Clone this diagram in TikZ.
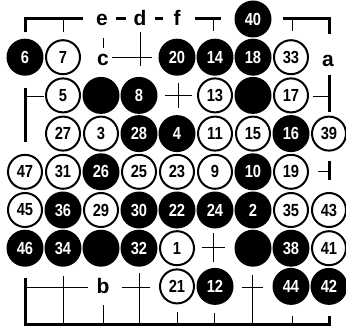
\documentclass[tikz,border=0pt]{standalone}
\usepackage{fontspec}
\setmainfont{Liberation Sans}
\newcommand\numfont{\fontsize{17.5}{17.5}\selectfont\bfseries}
\newcommand\stn[1]{\scalebox{0.84}[1]{#1}}
\begin{document}
\begin{tikzpicture}[x=1pt,y=-1pt,
  blk/.style={circle,fill=black,minimum size=37pt,inner sep=0pt,text=white,font=\numfont},
  wht/.style={circle,draw=black,line width=2pt,fill=white,minimum size=34pt,inner sep=0pt,text=black,font=\numfont},
  edgeline/.style={line width=3pt,line cap=butt},
  gridline/.style={line width=1pt},
  lbl/.style={font=\fontsize{21}{21}\selectfont\bfseries,inner sep=0pt}]
\useasboundingbox (0,0) rectangle (346,329);
% intersections
\foreach \i in {0,...,8}{\foreach \j in {0,...,8}{\coordinate (p\i\j) at (25+38*\i,19+38.2*\j);}}
% ---- top edge
\draw[edgeline] (25,32) -- (25,19) -- (83,19);
\draw[gridline] (63,19) -- (63,32);
\draw[edgeline] (116,19) -- (126,19);
\draw[edgeline] (155,19) -- (163,19);
\draw[edgeline] (195,19) -- (221,19);
\draw[gridline] (213,19) -- (213,31);
\draw[edgeline] (283,19) -- (329,19) -- (329,34);
\draw[gridline] (292,19) -- (292,31);
% ---- row 1
\draw[gridline] (103,38) -- (103,48);
\draw[gridline] (112,58) -- (152,58);
\draw[gridline] (140,32) -- (140,66);
% ---- row 2
\draw[edgeline] (25,88) -- (25,142);
\draw[gridline] (25,97) -- (44,97);
\draw[gridline] (165,96) -- (192,96);
\draw[gridline] (178,83) -- (178,108);
\draw[edgeline] (329,75) -- (329,112);
\draw[gridline] (313,97) -- (329,97);
% ---- row 4
\draw[edgeline] (329,161) -- (329,180);
\draw[gridline] (318,172) -- (329,172);
% ---- row 6
\draw[gridline] (202,247) -- (225,247);
\draw[gridline] (213,233) -- (213,262);
% ---- row 7 and bottom edge
\draw[edgeline] (25,278) -- (25,324) -- (329,324) -- (329,316);
\draw[gridline] (25,287) -- (88,287);
\draw[gridline] (63,276) -- (63,324);
\draw[gridline] (103,305) -- (103,324);
\draw[gridline] (122,287) -- (150,287);
\draw[gridline] (139,273) -- (139,324);
\draw[gridline] (242,287) -- (263,287);
\draw[gridline] (252,275) -- (252,324);
\draw[gridline] (177,312) -- (177,324);
\draw[gridline] (214,313) -- (214,324);
\draw[gridline] (292,316) -- (292,324);
% ---- letters
\node[lbl] (le) at (102,20) {e};
\node[lbl] (ld) at (140,18) {d};
\node[lbl] (lf) at (177,18) {f};
\node[lbl] (lc) at (103,60) {c};
\node[lbl] (la) at (328,61) {a};
\node[lbl] (lb) at (103,286) {b};
% ---- stones
\node[blk] (s40) at (p60) {\stn{40}};
\node[blk] (s6) at (p01) {\stn{6}};
\node[wht] (s7) at (p11) {\stn{7}};
\node[blk] (s20) at (p41) {\stn{20}};
\node[blk] (s14) at (p51) {\stn{14}};
\node[blk] (s18) at (p61) {\stn{18}};
\node[wht] (s33) at (p71) {\stn{33}};
\node[wht] (s5) at (p12) {\stn{5}};
\node[blk] (b22) at (p22) {};
\node[blk] (s8) at (p32) {\stn{8}};
\node[wht] (s13) at (p52) {\stn{13}};
\node[blk] (b62) at (p62) {};
\node[wht] (s17) at (p72) {\stn{17}};
\node[wht] (s27) at (p13) {\stn{27}};
\node[wht] (s3) at (p23) {\stn{3}};
\node[blk] (s28) at (p33) {\stn{28}};
\node[blk] (s4) at (p43) {\stn{4}};
\node[wht] (s11) at (p53) {\stn{11}};
\node[wht] (s15) at (p63) {\stn{15}};
\node[blk] (s16) at (p73) {\stn{16}};
\node[wht] (s39) at (p83) {\stn{39}};
\node[wht] (s47) at (p04) {\stn{47}};
\node[wht] (s31) at (p14) {\stn{31}};
\node[blk] (s26) at (p24) {\stn{26}};
\node[wht] (s25) at (p34) {\stn{25}};
\node[wht] (s23) at (p44) {\stn{23}};
\node[wht] (s9) at (p54) {\stn{9}};
\node[blk] (s10) at (p64) {\stn{10}};
\node[wht] (s19) at (p74) {\stn{19}};
\node[wht] (s45) at (p05) {\stn{45}};
\node[blk] (s36) at (p15) {\stn{36}};
\node[wht] (s29) at (p25) {\stn{29}};
\node[blk] (s30) at (p35) {\stn{30}};
\node[blk] (s22) at (p45) {\stn{22}};
\node[blk] (s24) at (p55) {\stn{24}};
\node[blk] (s2) at (p65) {\stn{2}};
\node[wht] (s35) at (p75) {\stn{35}};
\node[wht] (s43) at (p85) {\stn{43}};
\node[blk] (s46) at (p06) {\stn{46}};
\node[blk] (s34) at (p16) {\stn{34}};
\node[blk] (b26) at (p26) {};
\node[blk] (s32) at (p36) {\stn{32}};
\node[wht] (s1) at (p46) {\stn{1}};
\node[blk] (b66) at (p66) {};
\node[blk] (s38) at (p76) {\stn{38}};
\node[wht] (s41) at (p86) {\stn{41}};
\node[wht] (s21) at (p47) {\stn{21}};
\node[blk] (s12) at (p57) {\stn{12}};
\node[blk] (s44) at (p77) {\stn{44}};
\node[blk] (s42) at (p87) {\stn{42}};
\end{tikzpicture}
\end{document}
